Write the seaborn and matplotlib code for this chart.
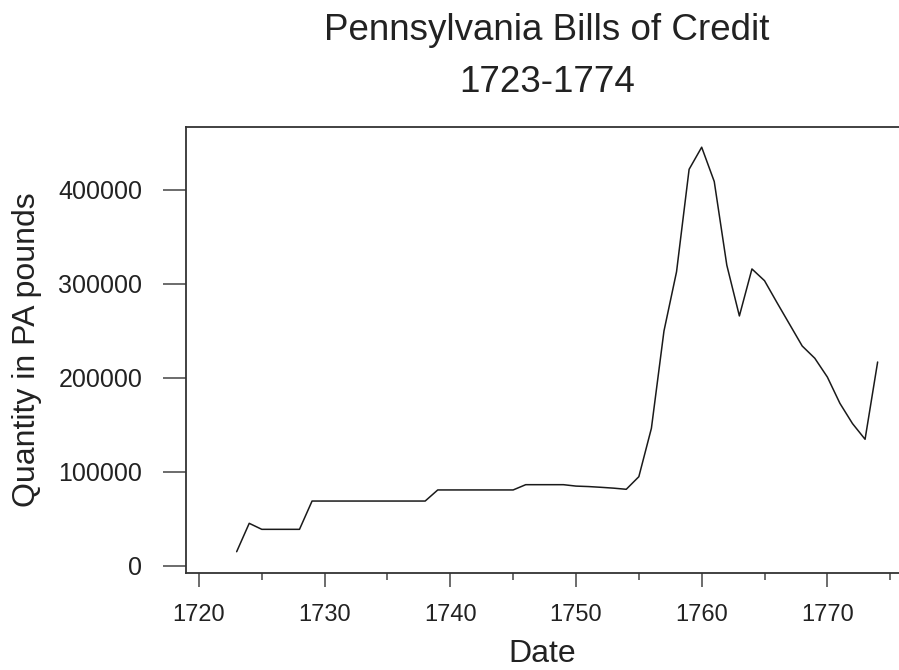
import numpy as np
import pandas as pd
import matplotlib.pyplot as plt
from matplotlib.ticker import MultipleLocator
import seaborn as sns

years = list(range(1723, 1775))
quantity = [
    15200, 45400, 39000, 39000, 39000, 39000, 69100, 69100, 69100, 69100,
    69100, 69100, 69100, 69100, 69100, 69100, 80900, 80900, 80900, 80900,
    80900, 80900, 80900, 86500, 86500, 86500, 86500, 85000, 84500, 83700,
    82800, 81600, 95000, 146500, 250000, 313000, 422000, 445500, 409000, 320000,
    266000, 316000, 303500, 280000, 257000, 234000, 221000, 201000, 173000, 151500,
    134800, 217000,
]
y_ticks = [0, 100000, 200000, 300000, 400000]
x_ticks = [1720, 1730, 1740, 1750, 1760, 1770]

df = pd.DataFrame({'Date': years, 'Quantity': quantity})

sns.set_style('ticks')
plt.rcParams['font.family'] = ['Liberation Sans', 'DejaVu Sans']

fig = plt.figure(figsize=(8.99, 6.70), dpi=100)
ax = fig.add_axes([186 / 899, 97 / 670, (899 - 186) / 899, 446 / 670])

sns.lineplot(data=df, x='Date', y='Quantity', ax=ax, color='#1a1a1a', linewidth=1.1)

ax.set_xlim(1718.97, 1775.7)
ax.set_ylim(-7450, 467000)
ax.set_xticks(x_ticks)
ax.xaxis.set_minor_locator(MultipleLocator(5))
ax.set_yticks(y_ticks)
ax.set_yticklabels([str(v) for v in y_ticks])

ax.spines['right'].set_visible(False)
for s in ['left', 'top', 'bottom']:
    ax.spines[s].set_linewidth(1.3)
    ax.spines[s].set_color('#333333')

ax.tick_params(axis='x', which='major', length=10, width=1.1, color='#444444',
               labelsize=17, pad=12, labelcolor='#222222')
ax.tick_params(axis='x', which='minor', length=5, width=1.1, color='#444444')
ax.tick_params(axis='y', which='major', length=16.5, width=1.1, color='#444444',
               labelsize=18, pad=15, labelcolor='#222222')

ax.set_xlabel('Date', fontsize=23, labelpad=10, color='#222222')
ax.set_ylabel('Quantity in PA pounds', fontsize=23, labelpad=12, color='#222222')
ax.set_title('Pennsylvania Bills of Credit\n1723-1774', fontsize=26.5,
             linespacing=1.65, pad=25, color='#222222', x=0.506)

fig.savefig('out.png', dpi=100)
